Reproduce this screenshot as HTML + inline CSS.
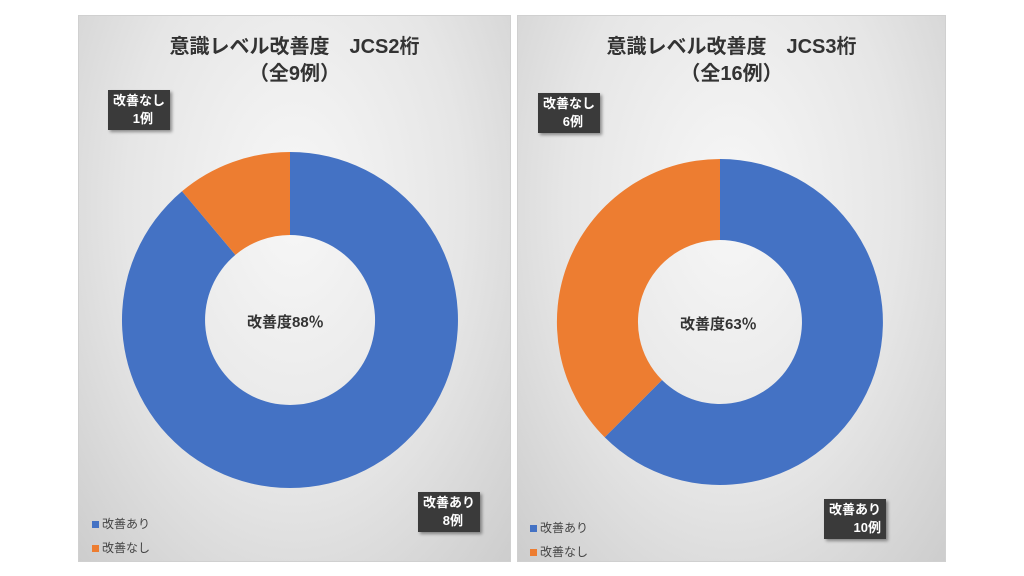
<!DOCTYPE html>
<html><head><meta charset="utf-8"><style>
body{margin:0;width:1024px;height:576px;background:#fff;position:relative;overflow:hidden;font-family:"Liberation Sans","Noto Sans CJK JP",sans-serif}
.p{position:absolute;top:15px;height:545px;border:1px solid #d0d0d0;background:radial-gradient(ellipse at 50% 35%,#f7f7f7 0%,#e6e6e6 55%,#cdcdcd 100%)}
.t{position:absolute;left:0;right:0;text-align:center;font-weight:bold;font-size:20px;color:#333;line-height:27px}
.lb{position:absolute;background:#3a3a3a;color:#fff;font-weight:bold;font-size:13px;line-height:18px;padding:2px 5px;box-shadow:2px 2px 3px rgba(0,0,0,.4);text-align:right;white-space:nowrap}
.lg{position:absolute;font-size:12px;color:#444;line-height:24px;white-space:nowrap}
.sq{display:inline-block;width:7px;height:7px;margin-right:3px}
.c{position:absolute;font-weight:bold;font-size:15px;color:#333;white-space:nowrap}
svg{position:absolute;left:0;top:0}
</style></head><body>
<div class="p" style="left:78px;width:431px">
<div class="t" style="top:18px">意識レベル改善度　JCS2桁<br>（全9例）</div>
</div>
<div class="p" style="left:517px;width:427px">
<div class="t" style="top:18px">意識レベル改善度　JCS3桁<br>（全16例）</div>
</div>
<svg width="1024" height="576">
<path d="M290,152 A168,168 0 1 1 182.0,191.3 L235.4,254.9 A85,85 0 1 0 290,235 Z" fill="#4472c4"/>
<path d="M182.0,191.3 A168,168 0 0 1 290,152 L290,235 A85,85 0 0 0 235.4,254.9 Z" fill="#ed7d31"/>
<path d="M720,159 A163,163 0 1 1 604.7,437.3 L662.0,380.0 A82,82 0 1 0 720,240 Z" fill="#4472c4"/>
<path d="M604.7,437.3 A163,163 0 0 1 720,159 L720,240 A82,82 0 0 0 662.0,380.0 Z" fill="#ed7d31"/>
</svg>
<div class="c" style="left:247px;top:311px">改善度88％</div>
<div class="c" style="left:680px;top:313px">改善度63％</div>
<div class="lb" style="left:108px;top:90px">改善なし<br><span style="margin-right:12px">1例</span></div>
<div class="lb" style="left:418px;top:492px">改善あり<br><span style="margin-right:12px">8例</span></div>
<div class="lb" style="left:538px;top:93px">改善なし<br><span style="margin-right:12px">6例</span></div>
<div class="lb" style="left:824px;top:499px">改善あり<br>10例</div>
<div class="lg" style="left:92px;top:512px"><span class="sq" style="background:#4472c4"></span>改善あり<br><span class="sq" style="background:#ed7d31"></span>改善なし</div>
<div class="lg" style="left:530px;top:516px"><span class="sq" style="background:#4472c4"></span>改善あり<br><span class="sq" style="background:#ed7d31"></span>改善なし</div>
</body></html>
